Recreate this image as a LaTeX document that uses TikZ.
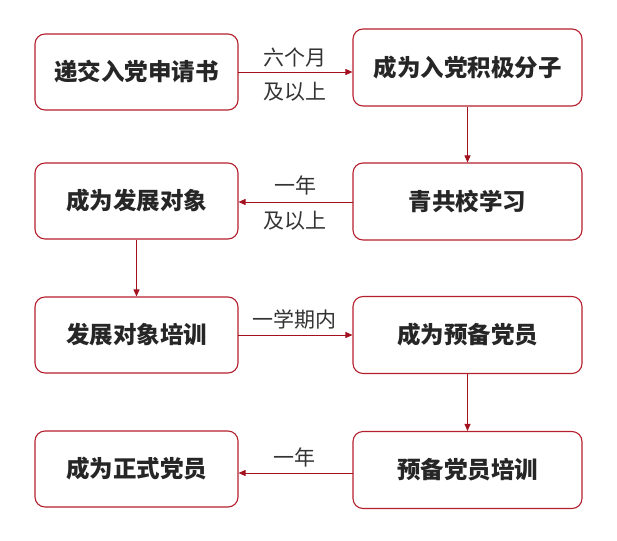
\documentclass[tikz,border=0pt]{standalone}
\usepackage{fontspec}
\setmainfont{Noto Sans CJK SC}
\usetikzlibrary{arrows.meta}
\definecolor{boxred}{HTML}{B5202E}
\definecolor{arrred}{HTML}{A3101E}
\tikzset{
  stepbox/.style={draw=boxred, line width=1.1pt, rounded corners=10pt, fill=white,
    inner sep=0pt, font=\fontsize{23.5}{26}\selectfont\bfseries, text=black!85},
  lbox/.style={stepbox, minimum width=203pt, minimum height=76pt},
  rbox/.style={stepbox, minimum width=229pt, minimum height=77pt},
  conn/.style={draw=arrred, line width=0.9pt, -{Triangle[length=7pt,width=6pt]}},
  lbl/.style={font=\fontsize{21}{24}\selectfont, text=black!80, inner sep=0pt}
}
\begin{document}
\begin{tikzpicture}[x=1pt,y=-1pt]
\useasboundingbox (0,0) rectangle (617,540);
\node[lbox] (L1) at (136.5,72) {递交入党申请书};
\node[rbox] (R1) at (467.5,67.5) {成为入党积极分子};
\node[rbox] (R2) at (467.5,201.5) {青共校学习};
\node[lbox] (L2) at (136.5,201) {成为发展对象};
\node[lbox] (L3) at (136.5,335) {发展对象培训};
\node[rbox] (R3) at (467.5,335) {成为预备党员};
\node[rbox] (R4) at (467.5,470) {预备党员培训};
\node[lbox] (L4) at (136.5,469) {成为正式党员};

\coordinate (a1) at (238,72);
\coordinate (a2) at (353,202);
\coordinate (a3) at (238,335);
\coordinate (a4) at (353,473);

\draw[conn] (a1) -- (a1 -| R1.west);
\draw[conn] (R1.south) -- (R2.north);
\draw[conn] (a2) -- (a2 -| L2.east);
\draw[conn] (L2.south) -- (L3.north);
\draw[conn] (a3) -- (a3 -| R3.west);
\draw[conn] (R3.south) -- (R4.north);
\draw[conn] (a4) -- (a4 -| L4.east);

\node[lbl] (t1a) at (295,58) {六个月};
\node[lbl] (t1b) at (295,92) {及以上};
\node[lbl] (t2a) at (295,185) {一年};
\node[lbl] (t2b) at (295,221) {及以上};
\node[lbl] (t3a) at (294,319) {一学期内};
\node[lbl] (t4a) at (294,457) {一年};
\end{tikzpicture}
\end{document}
